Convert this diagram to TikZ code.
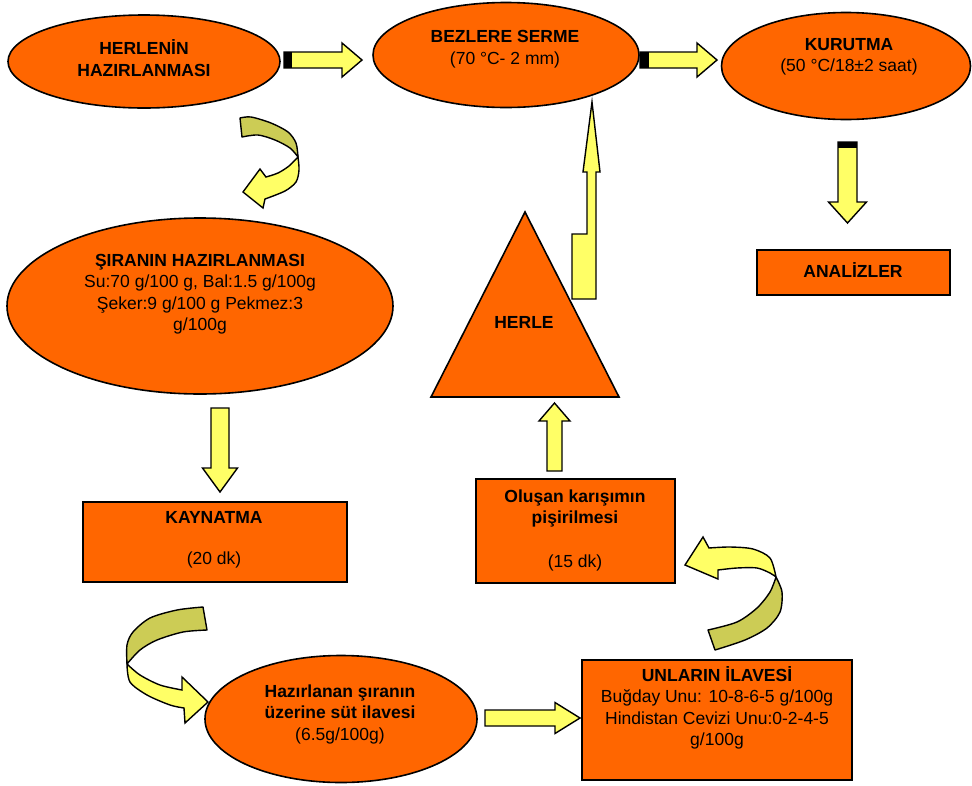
\documentclass[tikz,border=0pt]{standalone}
\usepackage{fontspec}
\setmainfont{Liberation Sans}
\usetikzlibrary{shapes.geometric}
\definecolor{org}{HTML}{FF6600}
\definecolor{yel}{HTML}{FFFF66}
\definecolor{olv}{HTML}{CCCC55}
% horizontal block arrow: x1, x2, yc, shaft half, head half, head length (signed)
\newcommand\blkH[6]{\draw[arr] (#1,{#3-#4}) -- ({#2-#6},{#3-#4}) -- ({#2-#6},{#3-#5}) -- (#2,#3) -- ({#2-#6},{#3+#5}) -- ({#2-#6},{#3+#4}) -- (#1,{#3+#4}) -- cycle;}
% vertical block arrow: xc, y1, y2, shaft half, head half, head length (signed)
\newcommand\blkV[6]{\draw[arr] ({#1-#4},#2) -- ({#1+#4},#2) -- ({#1+#4},{#3-#6}) -- ({#1+#5},{#3-#6}) -- (#1,#3) -- ({#1-#5},{#3-#6}) -- ({#1-#4},{#3-#6}) -- cycle;}
\begin{document}
\begin{tikzpicture}[x=1pt,y=-1pt,
  shapebox/.style={draw=black, line width=1.6pt, fill=org},
  ell/.style={shapebox, ellipse, inner sep=0pt},
  rbox/.style={shapebox, rectangle, inner sep=0pt},
  txt/.style={align=center, font=\fontsize{17.5}{21.5}\selectfont, inner sep=0pt},
  arr/.style={draw=black, line width=1.4pt, fill=yel, line join=miter},
  arrback/.style={draw=black, line width=1.4pt, fill=olv, line join=round},
  tail/.style={fill=black}]
\useasboundingbox (0,0) rectangle (972,785);

% ---------- shapes ----------
\node[ell, minimum width=272pt, minimum height=93pt] (herlenin) at (144,61.5) {};
\node[ell, minimum width=266pt, minimum height=105pt] (bezlere) at (506,55) {};
\node[ell, minimum width=249pt, minimum height=107pt] (kurutma) at (846,66) {};
\node[ell, minimum width=386pt, minimum height=176pt] (sira) at (200,306) {};
\node[ell, minimum width=272pt, minimum height=127pt] (sut) at (341,719) {};
\node[rbox, minimum width=193pt, minimum height=45pt] (analiz) at (853.5,272.5) {};
\node[rbox, minimum width=264pt, minimum height=80pt] (kaynat) at (215,542) {};
\node[rbox, minimum width=199pt, minimum height=104pt] (pisir) at (575.5,531) {};
\node[rbox, minimum width=270pt, minimum height=120pt] (unlar) at (717,720) {};
\draw[shapebox, line join=miter] (525,212) -- (619,397) -- (431,397) -- cycle;

% ---------- texts ----------
\node[txt] (t1) at (144,58) {\bfseries HERLENİN\\\bfseries HAZIRLANMASI};
\node[txt] (t2) at (505,49) {\bfseries BEZLERE SERME\\(70 °C- 2 mm)};
\node[txt] (t3) at (849,57) {\bfseries KURUTMA\\(50 °C/18±2 saat)};
\node[txt] (t4) at (853,270) {\bfseries ANALİZLER};
\node[txt] (t5) at (200,294) {\bfseries ŞIRANIN HAZIRLANMASI\\Su:70 g/100 g, Bal:1.5 g/100g\\Şeker:9 g/100 g Pekmez:3\\g/100g};
\node[txt] (t6) at (214,540) {\bfseries KAYNATMA\\[19pt](20 dk)};
\node[txt] (t7) at (575,530) {\bfseries Oluşan karışımın\\\bfseries pişirilmesi\\[22pt](15 dk)};
\node[txt] (t8) at (340,714) {\bfseries Hazırlanan şıranın\\\bfseries üzerine süt ilavesi\\(6.5g/100g)};
\node[txt] (t9) at (717,708) {\bfseries UNLARIN İLAVESİ\\Buğday Unu: 10-8-6-5 g/100g\\Hindistan Cevizi Unu:0-2-4-5\\g/100g};
\node[txt] (herle) at (524,322) {\bfseries HERLE};

% ---------- straight block arrows ----------
\blkH{284}{362}{60}{8}{17}{20}
\fill[tail] (284,52) rectangle (292,68);
\blkH{640}{717}{60}{8}{17}{20}
\fill[tail] (640,52) rectangle (649,68);
\blkV{847.5}{142}{223}{9.5}{19}{21}
\fill[tail] (838,142) rectangle (857,148);
\blkV{220}{408}{492}{9}{17.5}{24}
\blkH{485}{580}{718}{8}{15.5}{25}
\blkV{554.5}{471}{403}{7.5}{15.5}{-18}
% tall thin arrow from HERLE to BEZLERE SERME
\draw[arr] (572,299) -- (596,299) -- (596,172) -- (600,172) -- (592,102) -- (583,172) -- (587,172) -- (587,234) -- (572,234) -- cycle;

% ---------- curved arrows ----------
% 1: HERLENIN -> SIRANIN
\draw[arrback] (242,137) -- (240,118) -- plot[smooth] coordinates {(240,118) (251,117) (271,123) (288,132) (296,143) (298,157)}
  -- plot[smooth] coordinates {(298,157) (290,148) (275,140) (258,135) (242,137)} -- cycle;
\draw[arr] plot[smooth] coordinates {(298,157) (299,170) (296,182) (285,191) (265,199)}
  -- (263,208) -- (243,192) -- (260,169) -- (266,177)
  -- plot[smooth] coordinates {(266,177) (278,173) (289,166) (298,157)} -- cycle;
% 2: KAYNATMA -> Hazirlanan
\draw[arrback] (207,630) -- (203,607) -- plot[smooth] coordinates {(203,607) (177,610) (150,618) (133,632) (127,645) (127,664)}
  -- plot[smooth] coordinates {(127,664) (140,650) (157,640) (183,632) (207,630)} -- cycle;
\draw[arr] plot[smooth] coordinates {(127,664) (130,682) (147,695) (170,705) (184,708)}
  -- (185,723) -- (208,702) -- (182,677) -- (182,690)
  -- plot[smooth] coordinates {(182,690) (160,685) (140,675) (127,664)} -- cycle;
% 3: UNLARIN -> Olusan
\draw[arrback] plot[smooth] coordinates {(776,577) (782,592) (780,612) (767,628) (745,640) (715,650)}
  -- (708,630) -- plot[smooth] coordinates {(708,630) (737,622) (757,608) (770,592) (776,577)} -- cycle;
\draw[arr] (685,565) -- (703,537) -- (709,548)
  -- plot[smooth] coordinates {(709,548) (730,547) (753,549) (770,558) (776,577)}
  -- plot[smooth] coordinates {(776,577) (770,573) (757,568) (737,568) (718,570)}
  -- (718,579) -- cycle;
\end{tikzpicture}
\end{document}
